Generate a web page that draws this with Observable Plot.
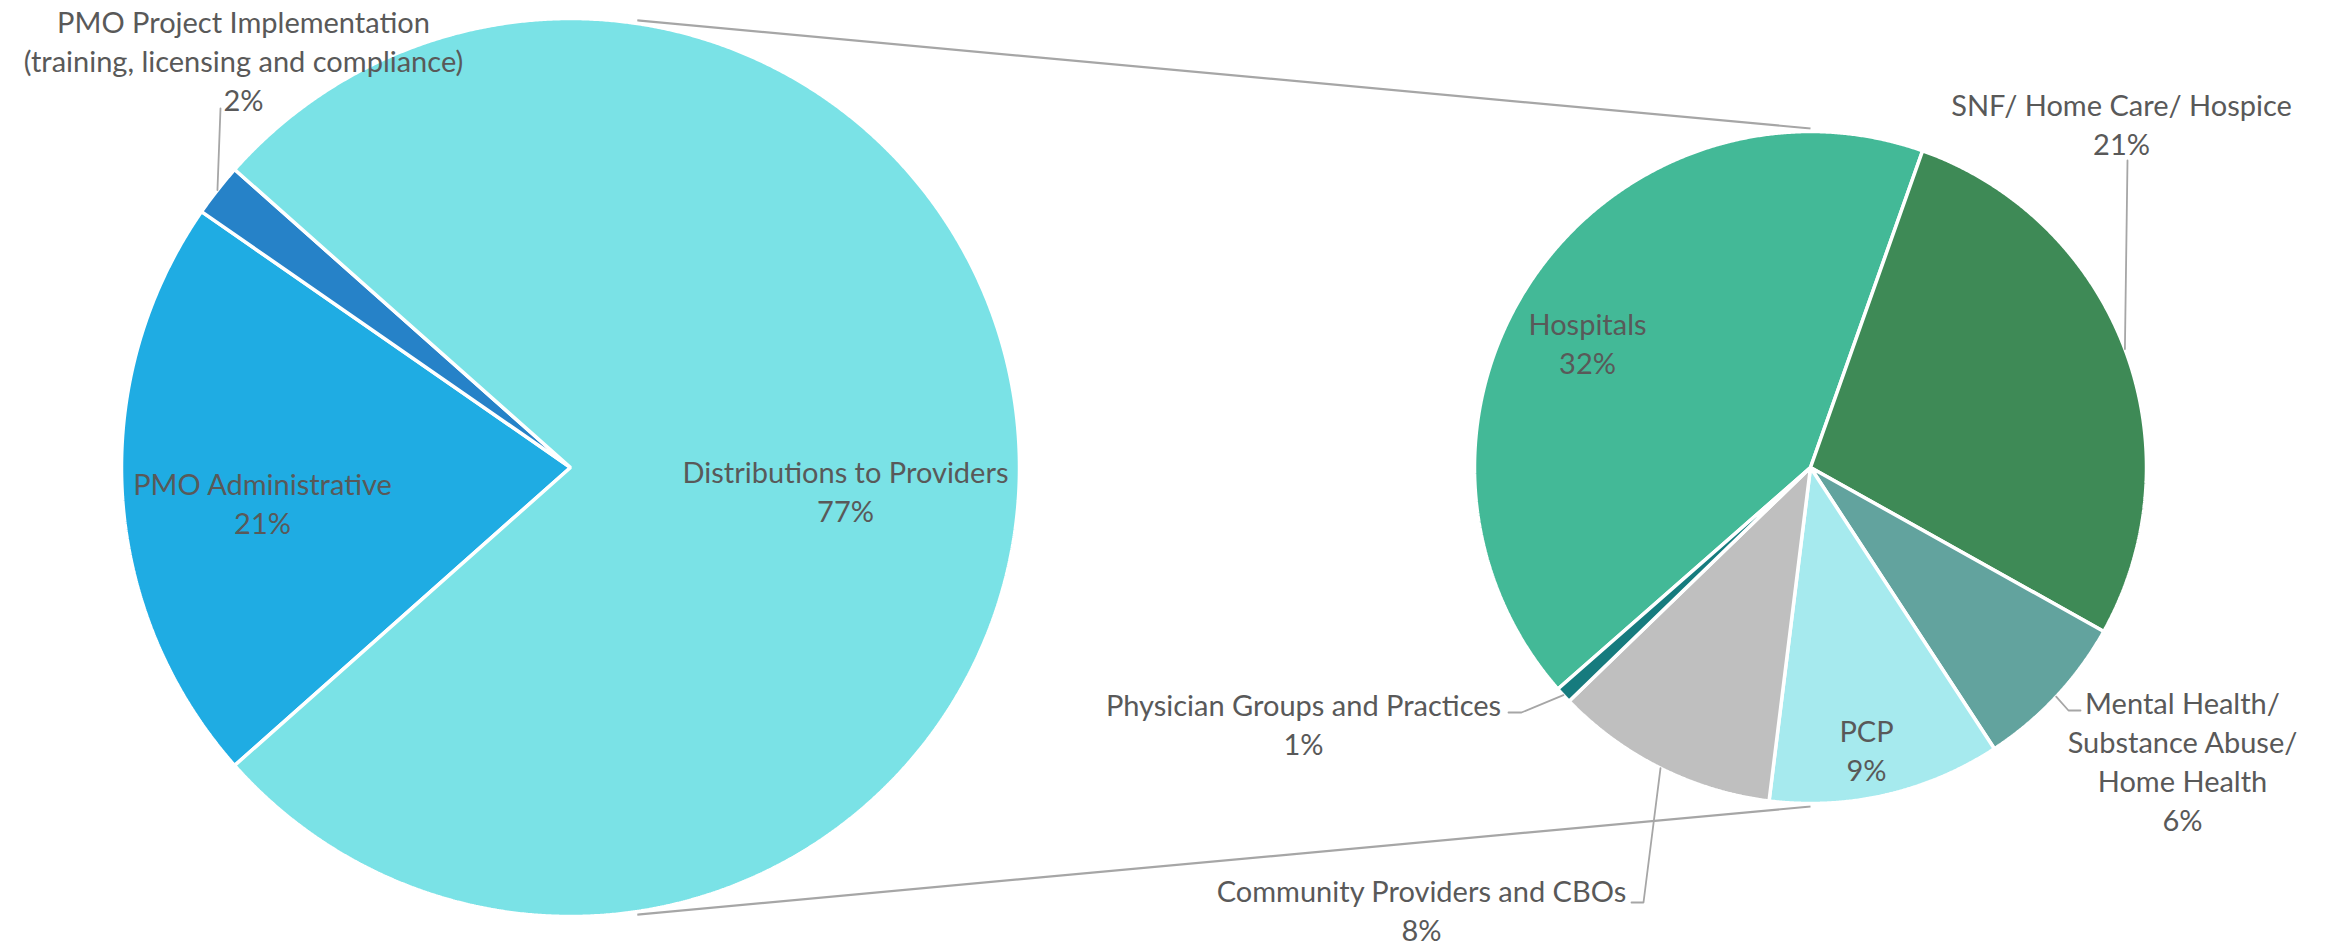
<!DOCTYPE html>
<html><head><meta charset="utf-8">
<script src="https://cdn.jsdelivr.net/npm/d3@7"></script>
<script src="https://cdn.jsdelivr.net/npm/@observablehq/plot@0.6"></script>
<style>html,body{margin:0;padding:0;background:#fff;overflow:hidden}#chart svg{display:block}</style>
</head><body><div id="chart"></div>
<script>
// ---- data ----
const budgetCategories = ["PMO Administrative", "PMO Project Implementation (training, licensing and compliance)", "Distributions to Providers"];
const budgetValues = [21.2, 1.9, 76.9];
const budgetColors = ["#1FACE3", "#2682C8", "#7AE2E6"];

const providerCategories = ["Hospitals", "SNF/ Home Care/ Hospice", "Mental Health/ Substance Abuse/ Home Health", "PCP", "Community Providers and CBOs", "Physician Groups and Practices"];
const providerValues = [32.2, 21.3, 5.9, 8.6, 8.3, 0.6];
const providerColors = ["#43B997", "#3E8A56", "#62A39E", "#A6EAEE", "#BFBFBF", "#167B7E"];

const labelLines = {
  "PMO Administrative": "PMO Administrative",
  "PMO Project Implementation (training, licensing and compliance)": "PMO Project Implementation\n(training, licensing and compliance)",
  "Distributions to Providers": "Distributions to Providers",
  "Hospitals": "Hospitals",
  "SNF/ Home Care/ Hospice": "SNF/ Home Care/ Hospice",
  "Mental Health/ Substance Abuse/ Home Health": "Mental Health/\nSubstance Abuse/\nHome Health",
  "PCP": "PCP",
  "Community Providers and CBOs": "Community Providers and CBOs",
  "Physician Groups and Practices": "Physician Groups and Practices"
};

// ---- layout ----
const W = 2326, H = 949;
const mainPie = {cx: 570, cy: 467, r: 449};
const subPie = {cx: 1810, cy: 467, r: 336};
const deg = Math.PI / 180;
const subStart = 228.75 * deg;
const connectorAngle = 8.5 * deg;

const labelLayout = [
  {name: "PMO Administrative", x: 262, y: 502},
  {name: "PMO Project Implementation (training, licensing and compliance)", x: 243, y: 59, leader: [[220, 108]]},
  {name: "Distributions to Providers", x: 845, y: 490},
  {name: "Hospitals", x: 1587, y: 342},
  {name: "SNF/ Home Care/ Hospice", x: 2121, y: 123, leader: [[2127, 160]]},
  {name: "Mental Health/ Substance Abuse/ Home Health", x: 2182, y: 760, leader: [[2068, 710], [2080, 710]]},
  {name: "PCP", x: 1866, y: 749},
  {name: "Community Providers and CBOs", x: 1421, y: 909, leader: [[1643, 902], [1631, 902]]},
  {name: "Physician Groups and Practices", x: 1303, y: 723, leader: [[1521, 712], [1508, 712]]}
];

// ---- geometry ----
const total = d3.sum(budgetValues);
const distShare = budgetValues[2] / total;
const mainStart = (90 + distShare * 180) * deg;

function makeSlices(cats, vals, pie, start) {
  const arcs = d3.pie().sort(null).value(d => d).startAngle(start).endAngle(start + 2 * Math.PI)(vals);
  return arcs.map((a, i) => ({name: cats[i], value: vals[i], a0: a.startAngle, a1: a.endAngle, mid: (a.startAngle + a.endAngle) / 2, pie}));
}
const slices = [
  ...makeSlices(budgetCategories, budgetValues, mainPie, mainStart),
  ...makeSlices(providerCategories, providerValues, subPie, subStart)
];
const pt = (pie, a, r) => [pie.cx + r * Math.sin(a), pie.cy - r * Math.cos(a)];

const polys = [];
for (const s of slices) {
  const p = s.pie;
  polys.push({name: s.name, x: p.cx, y: p.cy});
  const n = Math.max(2, Math.ceil((s.a1 - s.a0) / (0.25 * deg)));
  for (let k = 0; k <= n; k++) {
    const a = s.a0 + (s.a1 - s.a0) * k / n;
    const [x, y] = pt(p, a, p.r);
    polys.push({name: s.name, x, y});
  }
}

const connectors = [
  {p1: pt(mainPie, connectorAngle, mainPie.r + 3), p2: pt(subPie, 0, subPie.r + 3)},
  {p1: pt(mainPie, Math.PI - connectorAngle, mainPie.r + 3), p2: pt(subPie, Math.PI, subPie.r + 3)}
];

const leaders = [];
for (const L of labelLayout) {
  if (!L.leader) continue;
  const s = slices.find(d => d.name === L.name);
  const [x0, y0] = pt(s.pie, s.mid, s.pie.r);
  leaders.push({name: L.name, x: x0, y: y0});
  for (const [x, y] of L.leader) leaders.push({name: L.name, x, y});
}

const labels = labelLayout.map(L => {
  const s = slices.find(d => d.name === L.name);
  return {x: L.x, y: L.y, text: labelLines[L.name] + "\n" + Math.round(s.value / total * 100) + "%"};
});

const chart = Plot.plot({
  width: W, height: H, margin: 0,
  x: {domain: [0, W], range: [0, W], axis: null},
  y: {domain: [0, H], range: [0, H], axis: null},
  color: {domain: [...budgetCategories, ...providerCategories], range: [...budgetColors, ...providerColors]},
  style: {background: "white"},
  marks: [
    Plot.link(connectors, {x1: d => d.p1[0], y1: d => d.p1[1], x2: d => d.p2[0], y2: d => d.p2[1], stroke: "#A6A6A6", strokeWidth: 2.2}),
    Plot.line(polys, {x: "x", y: "y", z: "name", fill: "name", stroke: "white", strokeWidth: 3.5, strokeLinejoin: "miter", curve: "linear-closed"}),
    Plot.line(leaders, {x: "x", y: "y", z: "name", stroke: "#A6A6A6", strokeWidth: 1.8}),
    Plot.text(labels, {x: "x", y: "y", text: "text", fill: "#595959", fontSize: 29, fontFamily: "Lato", lineHeight: 39 / 29, textAnchor: "middle", lineAnchor: "middle"})
  ]
});
document.getElementById("chart").appendChild(chart);
</script>
</body></html>
